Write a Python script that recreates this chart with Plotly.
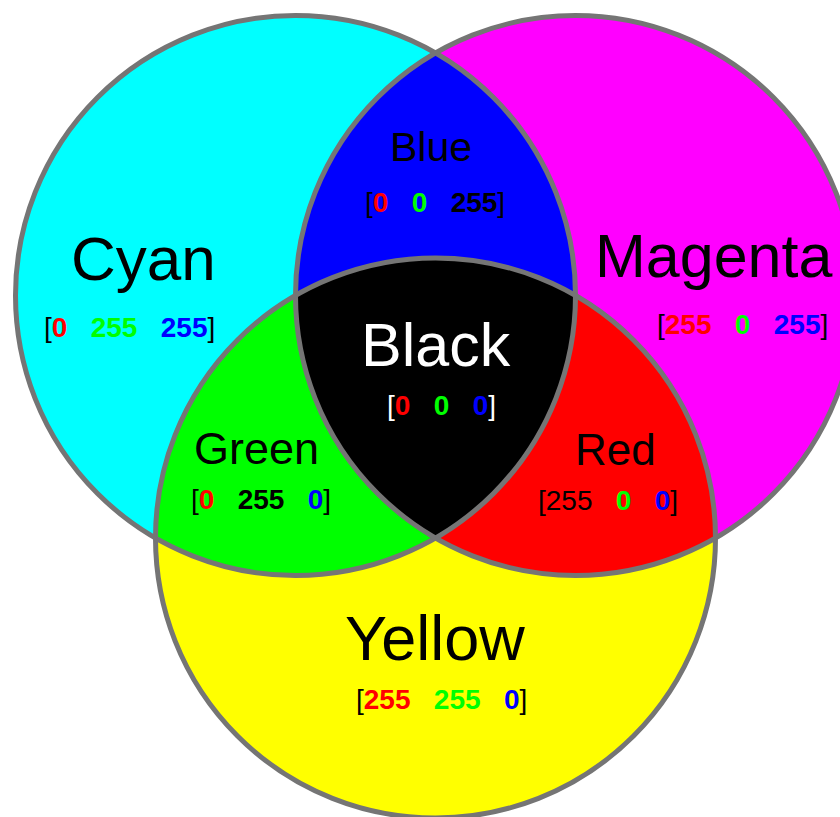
import numpy as np
import plotly.graph_objects as go

# ---- data ----
region_names = ["Cyan", "Magenta", "Yellow", "Blue", "Green", "Red", "Black"]
region_members = [["C"], ["M"], ["Y"], ["C", "M"], ["C", "Y"], ["M", "Y"], ["C", "M", "Y"]]
region_rgb = [[0, 255, 255], [255, 0, 255], [255, 255, 0],
              [0, 0, 255], [0, 255, 0], [255, 0, 0], [0, 0, 0]]

# ---- layout constants (pixel coordinates of the 840x817 window) ----
W, H = 840, 817
R = 280
centers = {"C": (295.5, 295.5), "M": (575.5, 295.5), "Y": (435.5, 538)}
outline = "#757575"

label_pos = {"Cyan": (143, 258), "Magenta": (713, 256), "Yellow": (435, 638),
             "Blue": (431, 147), "Green": (256, 448), "Red": (615, 449), "Black": (436, 345)}
value_pos = {"Cyan": (129, 327), "Magenta": (742, 324), "Yellow": (441, 699),
             "Blue": (435, 202), "Green": (261, 499), "Red": (608, 500), "Black": (441, 405)}
label_size = {"Cyan": 62, "Magenta": 61, "Yellow": 63, "Black": 61,
              "Blue": 41, "Green": 45, "Red": 44}


def region_polygon(keys, n=1440):
    cs = np.array([centers[k] for k in keys], dtype=float)
    p = cs.mean(axis=0)
    th = np.linspace(0, 2 * np.pi, n, endpoint=False)
    u = np.stack([np.cos(th), np.sin(th)], axis=1)
    ts = []
    for c in cs:
        d = p - c
        b = u @ d
        disc = b ** 2 - (d @ d) + R ** 2
        ts.append(-b + np.sqrt(disc))
    t = np.min(np.array(ts), axis=0)
    pts = p + u * t[:, None]
    return np.append(pts[:, 0], pts[0, 0]), np.append(pts[:, 1], pts[0, 1])


fig = go.Figure()
for name, keys, rgb in zip(region_names, region_members, region_rgb):
    x, y = region_polygon(keys)
    fig.add_trace(go.Scatter(x=x, y=y, mode="lines", fill="toself",
                             fillcolor="rgb(%d,%d,%d)" % tuple(rgb),
                             line=dict(width=0, color="rgb(%d,%d,%d)" % tuple(rgb)),
                             hoverinfo="skip", showlegend=False))

for k, (cx, cy) in centers.items():
    fig.add_shape(type="circle", xref="x", yref="y", x0=cx - R, x1=cx + R, y0=cy - R, y1=cy + R,
                  line=dict(color=outline, width=5), fillcolor="rgba(0,0,0,0)")

chan_colors = ["#FF0000", "#00FF00", "#0000FF"]
NB = "&nbsp;&nbsp;&nbsp;"


def value_text(name, rgb):
    text_col = "white" if name == "Black" else "black"
    parts = []
    for i, v in enumerate(rgb):
        col = chan_colors[i]
        if (name == "Blue" and i == 2) or (name == "Green" and i == 1):
            parts.append("<b><span style='color:black'>%d</span></b>" % v)
        elif name == "Red" and i == 0:
            parts.append("<span style='color:black'>%d</span>" % v)
        else:
            parts.append("<b><span style='color:%s'>%d</span></b>" % (col, v))
    return "<span style='color:%s'>[</span>" % text_col + NB.join(parts) + \
        "<span style='color:%s'>]</span>" % text_col


font_family = "Arial, Liberation Sans, sans-serif"
for name, rgb in zip(region_names, region_rgb):
    lx, ly = label_pos[name]
    fig.add_annotation(x=lx, y=ly, xref="x", yref="y", text=name, showarrow=False,
                       font=dict(family=font_family, size=label_size[name],
                                 color="white" if name == "Black" else "black"),
                       xanchor="center", yanchor="middle")
    vx, vy = value_pos[name]
    fig.add_annotation(x=vx, y=vy, xref="x", yref="y", text=value_text(name, rgb),
                       showarrow=False,
                       font=dict(family=font_family, size=28, color="black"),
                       xanchor="center", yanchor="middle")

fig.update_layout(width=W, height=H, margin=dict(l=0, r=0, t=0, b=0),
                  paper_bgcolor="white", plot_bgcolor="white", hovermode=False,
                  xaxis=dict(range=[0, W], visible=False, fixedrange=True),
                  yaxis=dict(range=[H, 0], visible=False, fixedrange=True),
                  showlegend=False)

fig.write_html("out.html", config={"displayModeBar": False},
               post_script="document.body.style.margin='0';document.body.style.overflow='hidden';")
